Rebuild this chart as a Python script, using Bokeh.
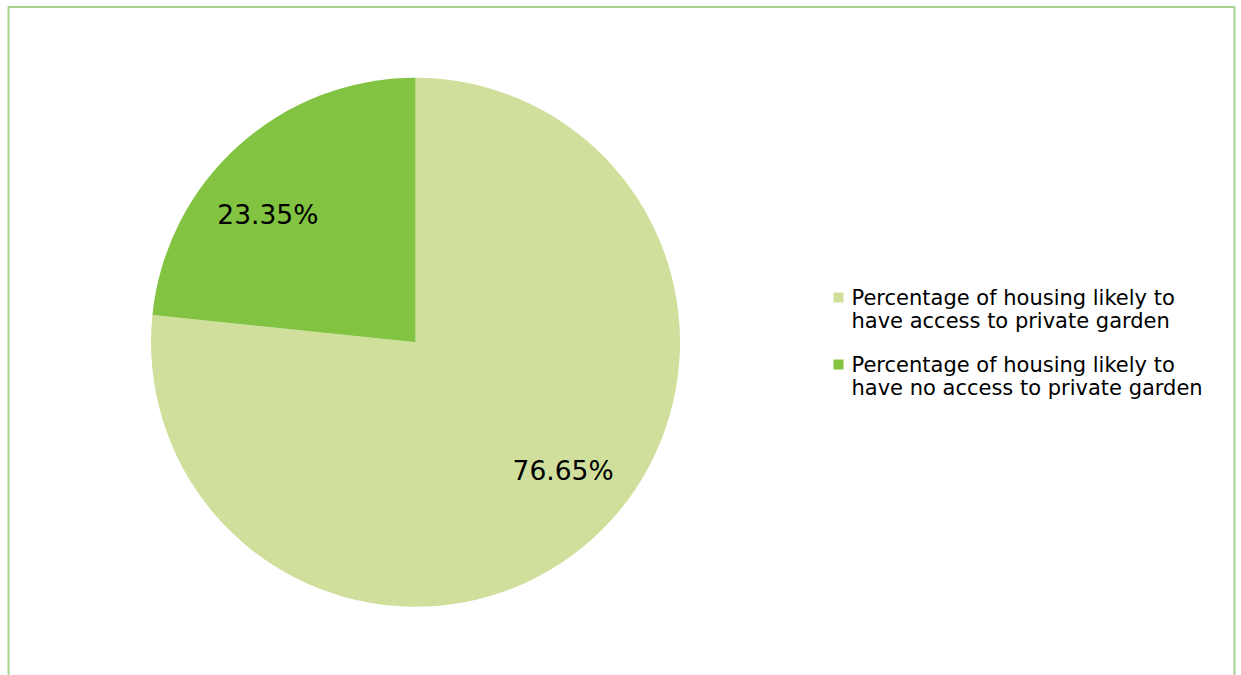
import math
import textwrap
from bokeh.plotting import figure
from bokeh.models import Range1d, ColumnDataSource
from bokeh.core.properties import value
from bokeh.embed import file_html
from bokeh.resources import INLINE

# ---- data ----
categories = [
    "Percentage of housing likely to have access to private garden",
    "Percentage of housing likely to have no access to private garden",
]
shares = [76.65, 23.35]
colors = ["#d0e09c", "#82c341"]

W, H = 1241, 675
p = figure(width=W, height=H, output_backend="svg", toolbar_location=None,
           x_range=Range1d(0, W), y_range=Range1d(0, H), min_border=0)
p.axis.visible = False
p.grid.visible = False
p.outline_line_color = None
p.background_fill_color = "white"
p.border_fill_color = "white"

# border (three sides visible)
bc = "#a8d18d"
p.line([8, 8, 1234, 1234], [-5, 668.5, 668.5, -5], line_color=bc, line_width=2)

# pie: starts at 12 o'clock, runs clockwise
cx, cy, R = 415, 333.25, 264.5
total = sum(shares)
starts, ends, mids = [], [], []
a = math.pi / 2
for s in shares:
    sweep = s / total * 2 * math.pi
    starts.append(a - sweep)
    ends.append(a)
    mids.append(a - sweep / 2)
    a -= sweep

src = ColumnDataSource(dict(start=starts, end=ends, color=colors))
p.wedge(x=cx, y=cy, radius=R, start_angle="start", end_angle="end",
        fill_color="color", line_color=None, source=src)

# data labels
lr = 195.5
off = math.radians(7.0)
lx = [cx + lr * math.cos(m + off) for m in mids]
ly = [cy + lr * math.sin(m + off) for m in mids]
lt = ["%.2f%%" % s for s in shares]
p.text(x=lx, y=ly, text=lt, text_align="center", text_baseline="middle",
       text_font=value("DejaVu Sans"), text_font_size="26.5px", text_color="#000000")

# legend (manual, wrapped)
leg_x, leg_y0, entry_gap, line_gap = 838, 675 - 297, 67, 23.5
for i, (cat, col) in enumerate(zip(categories, colors)):
    yy = leg_y0 - i * entry_gap
    p.rect(x=leg_x, y=yy, width=10, height=10, fill_color=col, line_color=None)
    lines = textwrap.wrap(cat, width=32)
    p.text(x=[leg_x + 13] * len(lines), y=[yy - k * line_gap for k in range(len(lines))],
           text=lines, text_align="left", text_baseline="middle",
           text_font=value("DejaVu Sans"), text_font_size="21px", text_color="#000000")

open("out.html", "w").write(file_html(p, INLINE))
